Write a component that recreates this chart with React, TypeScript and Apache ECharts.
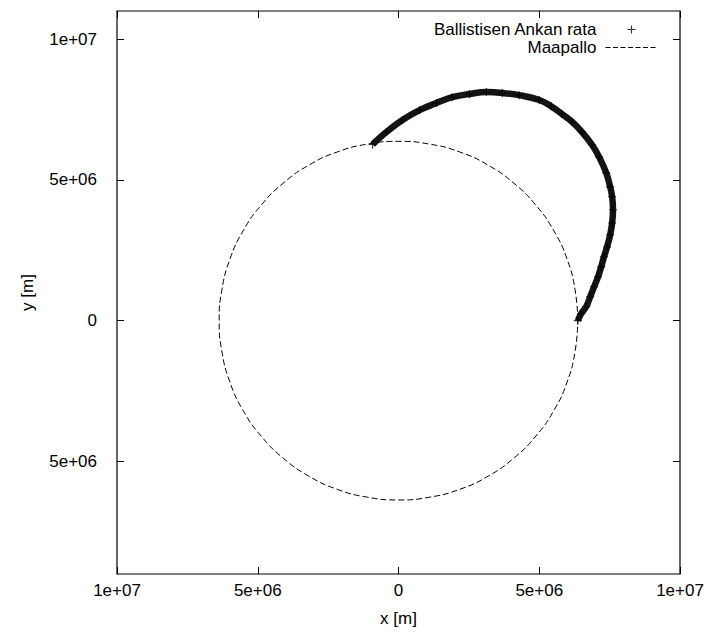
import React, { useEffect, useRef } from "react";
import * as echarts from "echarts";

// Trajectory points (x, y) in metres
const trajX = [6.37e6, 6.49e6, 6.67e6, 6.81e6, 6.95e6, 7.09e6, 7.2e6, 7.3e6, 7.41e6, 7.52e6, 7.59e6, 7.62e6, 7.59e6, 7.52e6, 7.38e6, 7.13e6, 6.88e6, 6.52e6, 6.17e6, 5.81e6, 5.42e6, 5.0e6, 4.29e6, 3.69e6, 3.12e6, 2.52e6, 1.91e6, 1.35e6, 0.75e6, 0.14e6, -0.43e6, -0.92e6];
const trajY = [0.0, 0.25e6, 0.5e6, 0.85e6, 1.21e6, 1.56e6, 1.91e6, 2.27e6, 2.62e6, 3.05e6, 3.47e6, 3.94e6, 4.4e6, 4.75e6, 5.25e6, 5.81e6, 6.24e6, 6.7e6, 7.06e6, 7.34e6, 7.62e6, 7.84e6, 8.01e6, 8.09e6, 8.12e6, 8.05e6, 7.94e6, 7.73e6, 7.48e6, 7.13e6, 6.7e6, 6.26e6];

// Earth outline points (x, y) in metres
const earthX = [6.37e6, 6.27e6, 5.99e6, 5.52e6, 4.88e6, 4.1e6, 3.19e6, 2.18e6, 1.11e6, 0, -1.11e6, -2.18e6, -3.19e6, -4.1e6, -4.88e6, -5.52e6, -5.99e6, -6.27e6, -6.37e6, -6.27e6, -5.99e6, -5.52e6, -4.88e6, -4.1e6, -3.19e6, -2.18e6, -1.11e6, 0, 1.11e6, 2.18e6, 3.19e6, 4.1e6, 4.88e6, 5.52e6, 5.99e6, 6.27e6, 6.37e6];
const earthY = [0, 1.11e6, 2.18e6, 3.19e6, 4.1e6, 4.88e6, 5.52e6, 5.99e6, 6.27e6, 6.37e6, 6.27e6, 5.99e6, 5.52e6, 4.88e6, 4.1e6, 3.19e6, 2.18e6, 1.11e6, 0, -1.11e6, -2.18e6, -3.19e6, -4.1e6, -4.88e6, -5.52e6, -5.99e6, -6.27e6, -6.37e6, -6.27e6, -5.99e6, -5.52e6, -4.88e6, -4.1e6, -3.19e6, -2.18e6, -1.11e6, 0];

const xTickValues = [-1e7, -5e6, 0, 5e6, 1e7];
const xTickLabels = ["1e+07", "5e+06", "0", "5e+06", "1e+07"];
const yTickValues = [-5e6, 0, 5e6, 1e7];
const yTickLabels = ["5e+06", "0", "5e+06", "1e+07"];

const seriesNames = ["Ballistisen Ankan rata", "Maapallo"];

const FONT = "'Liberation Sans', Arial, Helvetica, sans-serif";
const FS = 17;
const PLUS = "path://M3,0H4V3H7V4H4V7H3V4H0V3H3Z";

function lookup(vals: number[], labels: string[], v: number) {
  for (let i = 0; i < vals.length; i++) {
    if (Math.abs(vals[i] - v) < 1) return labels[i];
  }
  return "";
}

export default function App() {
  const ref = useRef<HTMLDivElement>(null);
  useEffect(() => {
    if (!ref.current) return;
    const chart = echarts.init(ref.current, undefined, { renderer: "svg" });
    const traj = trajX.map((x, i) => [x, trajY[i]]);
    const earth = earthX.map((x, i) => [x, earthY[i]]);
    const tick = { inside: true, length: 7, lineStyle: { color: "#000", width: 1 } };
    const noLine = { show: false, onZero: false };
    chart.setOption({
      animation: false,
      backgroundColor: "#fff",
      textStyle: { fontFamily: FONT },
      grid: {
        left: 117,
        right: 46,
        top: 11,
        bottom: 58,
        show: true,
        borderColor: "#000",
        borderWidth: 1.2,
      },
      legend: {
        orient: "vertical",
        right: 63,
        top: 16,
        align: "right",
        itemWidth: 52,
        itemHeight: 8,
        itemGap: 1,
        data: [
          { name: seriesNames[0] },
          { name: seriesNames[1], itemStyle: { opacity: 0 }, lineStyle: { width: 1, type: [5, 2.5] } },
        ],
        selectedMode: false,
        textStyle: { fontSize: FS, color: "#000", fontFamily: FONT, lineHeight: 17, padding: [0, 4, 0, 0] },
      },
      xAxis: [
        {
          type: "value",
          min: -1e7,
          max: 1e7,
          interval: 5e6,
          position: "bottom",
          axisLine: noLine,
          axisTick: tick,
          splitLine: { show: false },
          axisLabel: {
            color: "#000",
            fontSize: FS,
            fontFamily: FONT,
            margin: 8,
            formatter: (v: number) => lookup(xTickValues, xTickLabels, v),
          },
          name: "x [m]",
          nameLocation: "middle",
          nameGap: 36,
          nameTextStyle: { color: "#000", fontSize: FS, fontFamily: FONT },
        },
        {
          type: "value",
          min: -1e7,
          max: 1e7,
          interval: 5e6,
          position: "top",
          axisLine: noLine,
          axisTick: tick,
          splitLine: { show: false },
          axisLabel: { show: false },
        },
      ],
      yAxis: [
        {
          type: "value",
          min: -9e6,
          max: 1.1e7,
          position: "left",
          axisLine: noLine,
          axisTick: { ...tick, customValues: yTickValues },
          splitLine: { show: false },
          axisLabel: {
            color: "#000",
            fontSize: FS,
            fontFamily: FONT,
            margin: 20,
            customValues: yTickValues,
            formatter: (v: number) => lookup(yTickValues, yTickLabels, v),
          },
          name: "y [m]",
          nameLocation: "middle",
          nameGap: 81,
          nameTextStyle: { color: "#000", fontSize: FS, fontFamily: FONT },
        },
        {
          type: "value",
          min: -9e6,
          max: 1.1e7,
          position: "right",
          axisLine: noLine,
          axisTick: { ...tick, customValues: yTickValues },
          splitLine: { show: false },
          axisLabel: { show: false, customValues: yTickValues },
        },
      ],
      series: [
        {
          name: "band",
          type: "line",
          data: traj,
          smooth: 0.4,
          symbol: "none",
          silent: true,
          lineStyle: { color: "#141414", width: 6.5 },
          z: 2,
        },
        {
          name: seriesNames[0],
          type: "scatter",
          data: traj,
          symbol: PLUS,
          symbolSize: 8,
          silent: true,
          itemStyle: { color: "#000" },
          z: 3,
        },
        {
          name: seriesNames[1],
          type: "line",
          data: earth,
          smooth: true,
          symbol: "none",
          silent: true,
          lineStyle: { color: "#000", width: 1, type: [6, 3] },
          itemStyle: { color: "#000" },
          z: 1,
        },
      ],
    });
    return () => chart.dispose();
  }, []);
  return (
    <div
      ref={ref}
      style={{ position: "fixed", left: 0, top: 0, width: 726, height: 632, background: "#fff" }}
    />
  );
}
